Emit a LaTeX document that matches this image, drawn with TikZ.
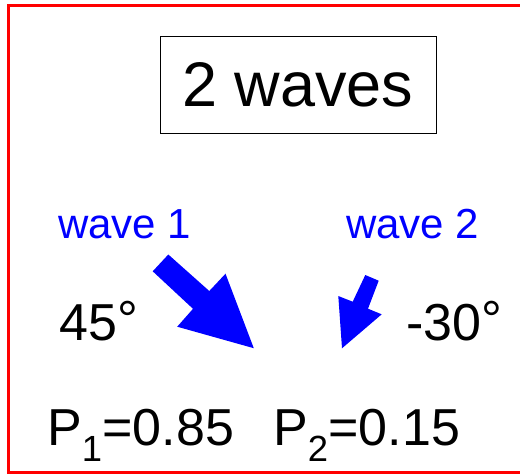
\documentclass[tikz,border=0pt]{standalone}
\usepackage{fontspec}
\setmainfont{Liberation Sans}
\usetikzlibrary{positioning}

\begin{document}
\begin{tikzpicture}[
    x=1pt, y=-1pt,
    every node/.style={inner sep=0pt, anchor=base west},
    title/.style={draw, line width=1pt, anchor=center, minimum width=276pt, minimum height=97pt, font=\fontsize{63}{70}\selectfont},
    wavelabel/.style={text=blue, font=\fontsize{42}{48}\selectfont},
    angle/.style={font=\fontsize{52}{58}\selectfont},
    prob/.style={font=\fontsize{52}{60}\selectfont},
    blockarrow/.style={fill=blue, draw=none}
  ]
  \useasboundingbox (0,0) rectangle (520,475);
  % Frame
  \draw[red, line width=2.5pt] (8.5,5.5) rectangle (530,472.5);

  % Title
  \node (ttl) [title] at (298,84.5) {2 waves};

  % Wave labels
  \node (wone) [wavelabel] at (58,238) {wave 1};
  \node (wtwo) [wavelabel] at (346,238) {wave 2};

  % Angles
  \node (aone) [angle] at (59,340) {45\raisebox{3pt}{°}};
  \node (atwo) [angle] at (406,340) {-30\raisebox{3pt}{°}};

  % Block arrows
  \fill[blockarrow] (152.7,271.3) -- (168.3,254.5) -- (209.3,291) -- (225.5,273.7)
    -- (253.8,348.2) -- (177.2,326.7) -- (193,308.8) -- cycle;
  \fill[blockarrow] (365.3,275) -- (378.7,280.7) -- (368,308.7) -- (381.7,314.3)
    -- (342,348.3) -- (338.3,296) -- (352.7,301.7) -- cycle;

  % Probabilities
  \node (pone) [prob] at (47,445) {P\textsubscript{1}=0.85};
  \node (ptwo) [prob] at (273,445) {P\textsubscript{2}=0.15};
\end{tikzpicture}
\end{document}
